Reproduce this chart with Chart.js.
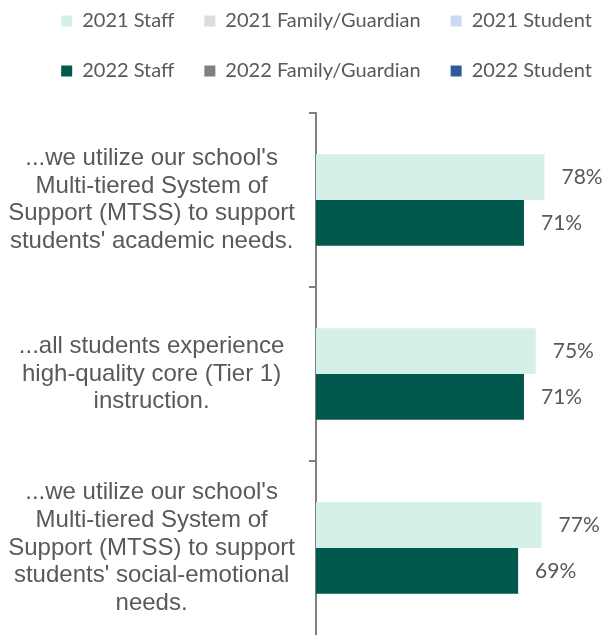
<!DOCTYPE html>
<html>
<head>
<meta charset="utf-8">
<script src="https://cdn.jsdelivr.net/npm/chart.js@4/dist/chart.umd.min.js"></script>
<style>
  html, body { margin: 0; padding: 0; background: #fff; }
  #wrap { width: 606px; height: 635px; }
</style>
</head>
<body>
<div id="wrap"><canvas id="chart"></canvas></div>
<script>
// categories (y axis labels, one line per array entry)
const categories = [
  ["...we utilize our school's", "Multi-tiered System of", "Support (MTSS) to support", "students' academic needs."],
  ["...all students experience", "high-quality core (Tier 1)", "instruction."],
  ["...we utilize our school's", "Multi-tiered System of", "Support (MTSS) to support", "students' social-emotional", "needs."]
];

const seriesNames = ['2021 Staff', '2021 Family/Guardian', '2021 Student', '2022 Staff', '2022 Family/Guardian', '2022 Student'];

// percent agree
const staff2021 = [78, 75, 77];
const family2021 = [null, null, null];
const student2021 = [null, null, null];
const staff2022 = [71, 71, 69];
const family2022 = [null, null, null];
const student2022 = [null, null, null];

const seriesColors = ['#D5F0E6', '#DDDDDD', '#C8DBF0', '#00594C', '#7F7F7F', '#2C5D94'];
const allSeries = [staff2021, family2021, student2021, staff2022, family2022, student2022];

const textGray = '#595959';
const axisGray = '#7F7F7F';

// gap between legend and plot
const legendGap = {
  id: 'legendGap',
  beforeInit(chart) {
    const origFit = chart.legend.fit;
    chart.legend.fit = function () {
      origFit.call(this);
      this.height += 22;
    };
  }
};

// value labels at the end of each bar
const barLabels = {
  id: 'barLabels',
  afterDatasetsDraw(chart) {
    const ctx = chart.ctx;
    ctx.save();
    ctx.font = '21px Lato';
    ctx.fillStyle = textGray;
    ctx.textAlign = 'left';
    ctx.textBaseline = 'middle';
    chart.data.datasets.forEach((ds, i) => {
      const meta = chart.getDatasetMeta(i);
      meta.data.forEach((bar, j) => {
        if (ds.data[j] == null) return;
        ctx.fillText(ds.data[j] + '%', bar.x + 17, bar.y);
      });
    });
    ctx.restore();
  }
};

const ctx = document.getElementById('chart').getContext('2d');
const myChart = new Chart(ctx, {
  type: 'bar',
  data: {
    labels: categories,
    datasets: seriesNames.map((name, i) => ({
      label: name,
      data: allSeries[i],
      backgroundColor: seriesColors[i],
      borderWidth: 0,
      categoryPercentage: 0.526,
      barPercentage: 1.0
    }))
  },
  options: {
    indexAxis: 'y',
    responsive: true,
    maintainAspectRatio: false,
    animation: false,
    skipNull: true,
    layout: {
      // right < 0 only widens the legend row so three items fit per line
      padding: { top: -19, left: 9, right: -38, bottom: 0 }
    },
    plugins: {
      legend: {
        display: true,
        position: 'top',
        labels: {
          boxWidth: 11,
          boxHeight: 11,
          padding: 30,
          color: textGray,
          font: { family: 'Lato', size: 20 }
        }
      },
      tooltip: { enabled: false }
    },
    scales: {
      x: {
        display: false,
        min: 0,
        max: 99
      },
      y: {
        afterFit: (scale) => {
          scale.width = 307;
          scale.paddingTop = 0;
          scale.paddingBottom = 0;
        },
        border: { display: true, color: axisGray, width: 2 },
        grid: {
          drawOnChartArea: false,
          drawTicks: true,
          tickLength: 7,
          // last divider sits on the bottom edge, not shown
          color: (c) => c.index === undefined ? 'rgba(0,0,0,0)' : axisGray,
          lineWidth: 2
        },
        ticks: {
          crossAlign: 'center',
          padding: 14,
          color: textGray,
          font: { family: "'Liberation Sans', Arial, sans-serif", size: 24, lineHeight: 1.155 }
        }
      }
    }
  },
  plugins: [legendGap, barLabels]
});
</script>
</body>
</html>
